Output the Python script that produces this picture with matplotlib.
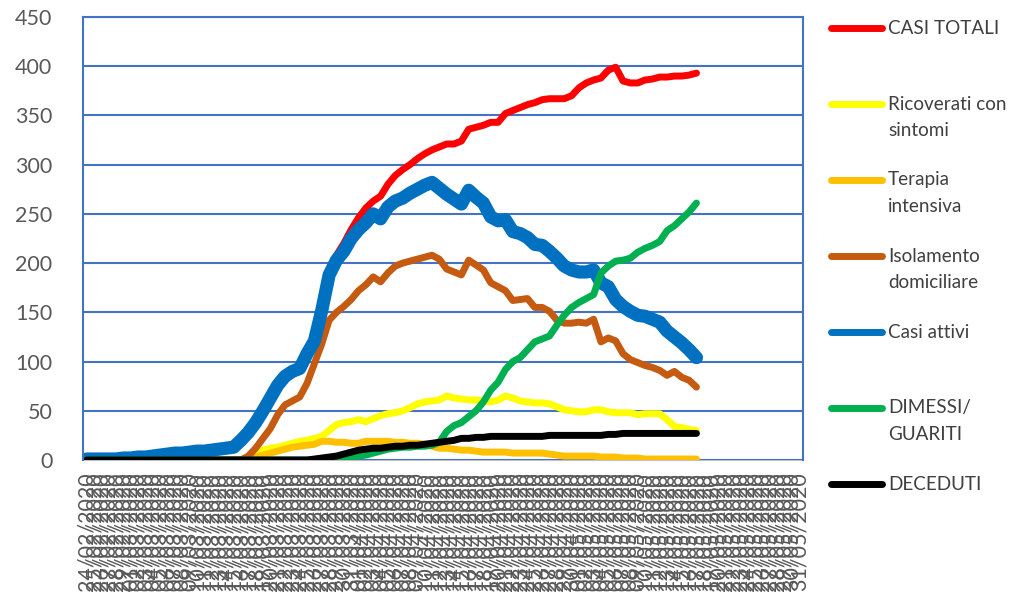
import matplotlib
matplotlib.use("Agg")
import matplotlib.pyplot as plt
from matplotlib.lines import Line2D
import pandas as pd

date_labels = pd.date_range("2020-02-24", "2020-05-31").strftime("%d/%m/%Y").tolist()

casi_totali = [1, 1, 1, 1, 1, 2, 2, 3, 3, 4, 5, 6, 7, 7, 8, 9, 9, 10, 11, 12, 13,
               20, 28, 38, 50, 63, 76, 85, 90, 93, 109, 122, 154, 191,
               208, 220, 234, 246, 256, 263, 268, 280, 289, 295, 300, 306, 311, 315,
               318, 321, 321, 324, 336, 338, 340, 343, 343, 352, 355, 358, 361, 363,
               366, 367, 367, 367, 370, 378, 383, 386, 388, 396, 399, 385, 383, 383,
               386, 387, 389, 389, 390, 390, 391, 393]
ricoverati = [0] * 22 + [3, 7, 10, 12, 13, 15, 17, 19, 20, 22, 24, 30,
                         36, 38, 39, 41, 39, 42, 45, 47, 48, 50, 53, 57, 59, 60,
                         61, 65, 63, 62, 61, 61, 60, 59, 61, 65, 63, 60, 59, 58,
                         58, 57, 54, 51, 50, 49, 49, 51, 51, 49, 48, 48, 48, 46,
                         47, 47, 47, 41, 34, 33, 31, 30]
terapia = [0] * 22 + [1, 3, 5, 7, 9, 11, 13, 14, 15, 16, 19, 19,
                      18, 18, 17, 17, 19, 19, 19, 19, 18, 18, 17, 17, 16, 14,
                      12, 12, 11, 10, 10, 9, 8, 8, 8, 8, 7, 7, 7, 7,
                      7, 6, 5, 4, 4, 4, 4, 4, 3, 3, 3, 2, 2, 2,
                      1, 1, 1, 1, 1, 1, 1, 1]
isolamento = [0] * 22 + [4, 12, 22, 32, 46, 56, 60, 64, 78, 98, 118, 142,
                         150, 156, 163, 172, 178, 186, 181, 190, 197, 200, 202, 204, 206, 208,
                         204, 194, 191, 188, 203, 198, 193, 180, 176, 172, 162, 163, 164, 155,
                         155, 151, 142, 139, 139, 140, 139, 143, 120, 124, 121, 108, 102, 99,
                         96, 94, 91, 86, 90, 84, 81, 74]
casi_attivi = [1, 1, 1, 1, 1, 2, 2, 3, 3, 4, 5, 6, 7, 7, 8, 9, 9, 10, 11, 12, 13,
               20, 28, 38, 50, 63, 76, 85, 90, 93, 108, 121, 152, 188,
               203, 212, 225, 234, 241, 250, 245, 257, 263, 266, 271, 275, 279, 282,
               276, 270, 265, 260, 274, 267, 261, 247, 243, 244, 232, 230, 226, 219,
               218, 212, 205, 197, 193, 191, 191, 193, 180, 176, 163, 156, 151, 147,
               146, 143, 140, 131, 125, 119, 112, 104]
dimessi = [0] * 34 + [1, 2, 3, 4, 5, 7, 9, 11, 12, 13, 13, 14, 14, 15,
                      18, 29, 35, 38, 44, 50, 59, 71, 79, 92, 100, 104, 112, 120,
                      123, 126, 137, 147, 155, 160, 164, 168, 190, 197, 202, 203, 205, 211,
                      215, 218, 222, 233, 238, 245, 252, 261]
deceduti = [0] * 31 + [1, 2, 3, 4, 6, 8, 10, 11, 12, 12, 13, 14, 14, 15, 15, 16, 17,
                       18, 19, 20, 22, 22, 23, 23, 24, 24, 24, 24, 24, 24, 24,
                       24, 25, 25, 25, 25, 25, 25, 25, 25, 26, 26, 27, 27, 27,
                       27, 27, 27, 27, 27, 27, 27, 27]

series = [
    ("CASI TOTALI", casi_totali, "#FF0000", 5),
    ("Ricoverati con\nsintomi", ricoverati, "#FFFF00", 5),
    ("Terapia\nintensiva", terapia, "#FFC000", 5),
    ("Isolamento\ndomiciliare", isolamento, "#C55A11", 5),
    ("Casi attivi", casi_attivi, "#0070C0", 9.5),
    ("DIMESSI/\nGUARITI", dimessi, "#00B050", 5),
    ("DECEDUTI", deceduti, "#000000", 5),
]

W, H = 1011, 595
fig = plt.figure(figsize=(W / 100, H / 100), dpi=100)
ax = fig.add_axes([83 / W, 1 - 460 / H, 720 / W, 443 / H])

for name, vals, col, lw in series:
    ax.plot(range(len(vals)), vals, color=col, lw=lw,
            solid_capstyle="round", solid_joinstyle="round")

ax.set_xlim(-0.5, len(date_labels) - 0.5)
ax.set_ylim(0, 450)
ax.set_yticks(range(0, 451, 50))
ax.set_xticks(range(len(date_labels)))
ax.set_xticklabels(date_labels, rotation=90, fontsize=15.5, family="Lato", color="#595959")
for lab in ax.get_yticklabels():
    lab.set_family("Lato")
ax.tick_params(axis="y", length=0, pad=22, labelsize=15.5, labelcolor="#595959")
ax.tick_params(axis="x", length=0, pad=9)
ax.grid(axis="y", color="#4472C4", lw=1.5)
ax.set_axisbelow(True)
for s in ["left", "right", "top"]:
    ax.spines[s].set_color("#4472C4")
    ax.spines[s].set_linewidth(1.5)
ax.spines["bottom"].set_color("#BFBFBF")
ax.spines["bottom"].set_linewidth(1.5)
ax.spines["bottom"].set_zorder(0.5)

# legend drawn by hand on the right
for k, (name, vals, col, lw) in enumerate(series):
    y = 1 - (28 + 76 * k) / H
    fig.add_artist(Line2D([831 / W, 882 / W], [y, y], color=col, lw=5,
                          solid_capstyle="round"))
    for j, part in enumerate(name.split("\n")):
        fig.text(888 / W, y - 26 * j / H, part, fontsize=13.6, family="Lato",
                 color="#404040", va="center", ha="left")

fig.savefig("out.png", dpi=100)
